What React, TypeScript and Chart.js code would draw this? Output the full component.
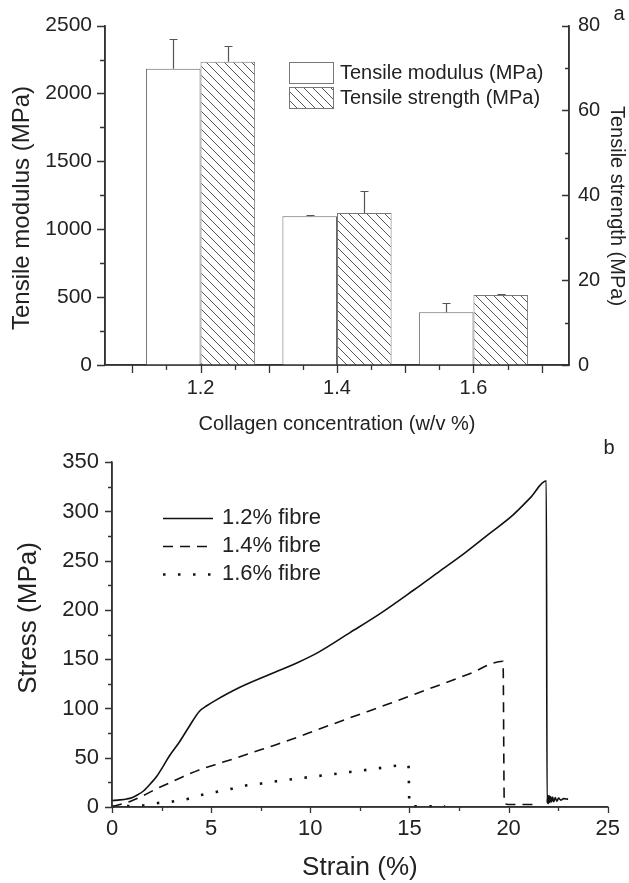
import React, { useEffect, useRef } from 'react';
import { Chart, registerables } from 'chart.js';

Chart.register(...registerables);

const FONT = "'Liberation Sans', Arial, Helvetica, sans-serif";
const AXIS = '#333333';
const TEXT = '#222222';

// ---------- Panel a : bars ----------
const CONCENTRATIONS = [1.2, 1.4, 1.6];
const MODULUS = [2182, 1095, 388];
const MODULUS_ERR = [220, 10, 66];
const STRENGTH = [71.5, 35.8, 16.5];
const STRENGTH_ERR = [3.6, 5.1, 0.3];
const A_X_LABELS = [1.2, 1.4, 1.6];
const A_X_LONG = [1.1, 1.2, 1.3, 1.4, 1.5, 1.6, 1.7];
const A_X_SHORT = [1.15, 1.25, 1.35, 1.45, 1.55, 1.65];
const A_MOD_TICKS = [0, 500, 1000, 1500, 2000, 2500];
const A_MOD_MINOR = [250, 750, 1250, 1750, 2250];
const A_STR_TICKS = [0, 20, 40, 60, 80];
const A_STR_MINOR = [10, 30, 50, 70];
const A_X_TITLE = 'Collagen concentration (w/v %)';
const A_Y_TITLE = 'Tensile modulus (MPa)';
const A_Y1_TITLE = 'Tensile strength (MPa)';

// ---------- Panel b : stress-strain ----------
const STRAIN_12 = [0, 0.4, 0.75, 1.0, 1.3, 1.6, 2.0, 2.25, 2.6, 2.9, 3.4, 3.9, 4.4, 4.8, 5.2, 6.4, 8.0, 9.4, 10.4, 12.0, 13.5, 15.2, 16.5, 17.8, 19.0, 20.2, 21.1, 21.9, 21.94, 21.97, 22.0, 22.04, 22.08, 22.12, 22.17, 22.22, 22.28, 22.35, 22.43, 22.52, 22.63, 22.78, 23.0];
const STRESS_12 = [6.5, 7.2, 8.2, 9.5, 12.5, 16.5, 25, 31, 42, 52, 66, 82, 97, 103, 108, 121, 135, 147, 157, 177, 196, 220, 239, 258, 277, 296, 314, 331, 4, 12, 3.5, 11.5, 4.5, 10.5, 5, 10, 5.5, 9.5, 6, 9, 7, 8.5, 8];
const STRAIN_14 = [0, 0.5, 0.83, 1.0, 1.57, 2.2, 2.9, 3.6, 4.39, 5.2, 6.05, 7.1, 8.2, 9.3, 10.36, 12.0, 14.0, 16.0, 18.0, 19.72, 19.78, 19.85, 20.0, 20.6, 21.5];
const STRESS_14 = [0.5, 3, 5, 6.3, 11.5, 18, 24.5, 31, 37.6, 43, 48.4, 55.5, 62.7, 70.5, 78.4, 90.5, 105, 120, 135, 148, 6, 3, 2.5, 2.5, 2.5];
const STRAIN_16 = [0, 0.83, 1.57, 2.32, 3.07, 3.81, 4.56, 5.3, 6.05, 6.8, 7.54, 8.29, 10.0, 12.0, 13.5, 14.43, 14.95, 15.0, 15.1, 16.8];
const STRESS_16 = [0.5, 1, 1.6, 4, 5.6, 8.2, 12.5, 15.4, 18.6, 22, 23.9, 26.2, 30.5, 35.5, 39.5, 41.9, 41.9, 1, 0.8, 0.8];
const SERIES_B = ['1.2% fibre', '1.4% fibre', '1.6% fibre'];
const B_X_TICKS = [0, 5, 10, 15, 20, 25];
const B_X_MINOR = [2.5, 7.5, 12.5, 17.5, 22.5];
const B_Y_TICKS = [0, 50, 100, 150, 200, 250, 300, 350];
const B_Y_MINOR = [25, 75, 125, 175, 225, 275, 325];
const B_X_TITLE = 'Strain (%)';
const B_Y_TITLE = 'Stress (MPa)';

const DASHES: number[][] = [[], [10, 7], [2.5, 12.5]];
const WIDTHS = [1.6, 1.6, 2.6];

function makeHatch(): CanvasPattern | string {
  const s = 9;
  const c = document.createElement('canvas');
  c.width = s;
  c.height = s;
  const g = c.getContext('2d');
  if (!g) return '#fff';
  g.fillStyle = '#ffffff';
  g.fillRect(0, 0, s, s);
  g.strokeStyle = '#555555';
  g.lineWidth = 1;
  g.beginPath();
  g.moveTo(-1, -1);
  g.lineTo(s + 1, s + 1);
  g.moveTo(-1, s - 1);
  g.lineTo(1, s + 1);
  g.moveTo(s - 1, -1);
  g.lineTo(s + 1, 1);
  g.stroke();
  return g.createPattern(c, 'repeat') || '#fff';
}

type TickSpec = { scale: string; values: number[]; len: number };

function tickMarksPlugin(specs: TickSpec[]) {
  return {
    id: 'tickMarks',
    afterDraw(chart: any) {
      const ctx = chart.ctx;
      const area = chart.chartArea;
      ctx.save();
      ctx.strokeStyle = AXIS;
      // redraw axis lines on top of the bars
      ctx.lineWidth = 1.5;
      ctx.beginPath();
      Object.values(chart.scales).forEach((sc: any) => {
        if (sc.isHorizontal()) {
          ctx.moveTo(area.left - 0.75, sc.top);
          ctx.lineTo(area.right + 0.75, sc.top);
        } else if (sc.position === 'left') {
          ctx.moveTo(sc.right, area.top);
          ctx.lineTo(sc.right, area.bottom);
        } else {
          ctx.moveTo(sc.left, area.top);
          ctx.lineTo(sc.left, area.bottom);
        }
      });
      ctx.stroke();
      ctx.lineWidth = 1.3;
      ctx.beginPath();
      for (const s of specs) {
        const sc = chart.scales[s.scale];
        for (const v of s.values) {
          const p = Math.round(sc.getPixelForValue(v)) + 0.5;
          if (sc.isHorizontal()) {
            ctx.moveTo(p, sc.top);
            ctx.lineTo(p, sc.top + s.len);
          } else if (sc.position === 'left') {
            ctx.moveTo(sc.right, p);
            ctx.lineTo(sc.right - s.len, p);
          } else {
            ctx.moveTo(sc.left, p);
            ctx.lineTo(sc.left - s.len, p);
          }
        }
      }
      ctx.stroke();
      ctx.restore();
    },
  };
}

type VTitle = { text: string; x: number; y: number; size: number; rot: number };

function vTitlesPlugin(items: VTitle[]) {
  return {
    id: 'vTitles',
    afterDraw(chart: any) {
      const ctx = chart.ctx;
      for (const t of items) {
        ctx.save();
        ctx.translate(t.x, t.y);
        ctx.rotate(t.rot);
        ctx.fillStyle = TEXT;
        ctx.font = `${t.size}px ${FONT}`;
        ctx.textAlign = 'center';
        ctx.textBaseline = 'middle';
        ctx.fillText(t.text, 0, 0);
        ctx.restore();
      }
    },
  };
}

const errorBarPlugin = {
  id: 'errorBars',
  afterDatasetsDraw(chart: any) {
    const ctx = chart.ctx;
    ctx.save();
    ctx.strokeStyle = '#555555';
    ctx.lineWidth = 1.2;
    chart.data.datasets.forEach((ds: any, di: number) => {
      const meta = chart.getDatasetMeta(di);
      const yScale = chart.scales[meta.yAxisID];
      meta.data.forEach((bar: any, i: number) => {
        const v = ds.data[i].y + ds.errors[i];
        const yTop = Math.round(yScale.getPixelForValue(v)) + 0.5;
        const x = Math.round(bar.x) + 0.5;
        ctx.beginPath();
        ctx.moveTo(x, bar.y);
        ctx.lineTo(x, yTop);
        ctx.moveTo(x - 4, yTop);
        ctx.lineTo(x + 4, yTop);
        ctx.stroke();
      });
    });
    ctx.restore();
  },
};

function legendAPlugin(hatch: any) {
  return {
    id: 'legendA',
    afterDraw(chart: any) {
      const ctx = chart.ctx;
      ctx.save();
      const boxes = [
        { y: 62, fill: '#ffffff', label: chart.data.datasets[0].label },
        { y: 87, fill: hatch, label: chart.data.datasets[1].label },
      ];
      for (const b of boxes) {
        ctx.fillStyle = b.fill;
        ctx.fillRect(289, b.y, 44, 21);
        ctx.strokeStyle = '#777777';
        ctx.lineWidth = 1;
        ctx.strokeRect(289.5, b.y + 0.5, 44, 21);
        ctx.fillStyle = TEXT;
        ctx.font = `20px ${FONT}`;
        ctx.textBaseline = 'middle';
        ctx.textAlign = 'left';
        ctx.fillText(b.label, 340, b.y + 11);
      }
      ctx.font = `20px ${FONT}`;
      ctx.textAlign = 'center';
      ctx.fillText('a', 619, 14);
      ctx.restore();
    },
  };
}

const legendBPlugin = {
  id: 'legendB',
  afterDraw(chart: any) {
    const ctx = chart.ctx;
    ctx.save();
    chart.data.datasets.forEach((ds: any, i: number) => {
      const y = 82 + i * 28;
      ctx.strokeStyle = '#111111';
      ctx.lineWidth = ds.borderWidth;
      ctx.setLineDash(ds.borderDash || []);
      ctx.beginPath();
      ctx.moveTo(163, y + 0.5);
      ctx.lineTo(213, y + 0.5);
      ctx.stroke();
      ctx.setLineDash([]);
      ctx.fillStyle = TEXT;
      ctx.font = `22px ${FONT}`;
      ctx.textBaseline = 'middle';
      ctx.textAlign = 'left';
      ctx.fillText(ds.label, 222, y);
    });
    ctx.font = `20px ${FONT}`;
    ctx.textAlign = 'center';
    ctx.fillText('b', 609, 12);
    ctx.restore();
  },
};

function setTicks(values: number[]) {
  return (s: any) => {
    s.ticks = values.map((v) => ({ value: v }));
  };
}

export default function App() {
  const topRef = useRef<HTMLCanvasElement>(null);
  const botRef = useRef<HTMLCanvasElement>(null);

  useEffect(() => {
    Chart.defaults.font.family = FONT;
    Chart.defaults.color = TEXT;
    const hatch = makeHatch();

    const topChart = new Chart(topRef.current as HTMLCanvasElement, {
      type: 'bar',
      data: {
        datasets: [
          {
            label: 'Tensile modulus (MPa)',
            data: CONCENTRATIONS.map((c, i) => ({ x: c, y: MODULUS[i] })),
            errors: MODULUS_ERR,
            yAxisID: 'y',
            backgroundColor: '#ffffff',
            borderColor: '#666666',
            borderWidth: 1,
            categoryPercentage: 0.8,
            barPercentage: 1,
          } as any,
          {
            label: 'Tensile strength (MPa)',
            data: CONCENTRATIONS.map((c, i) => ({ x: c, y: STRENGTH[i] })),
            errors: STRENGTH_ERR,
            yAxisID: 'y1',
            backgroundColor: hatch,
            borderColor: '#777777',
            borderWidth: 1,
            categoryPercentage: 0.8,
            barPercentage: 1,
          } as any,
        ],
      },
      options: {
        animation: false,
        responsive: false,
        maintainAspectRatio: false,
        layout: { padding: { top: 24, left: 0, right: 0, bottom: 0 } },
        plugins: { legend: { display: false }, tooltip: { enabled: false } },
        scales: {
          x: {
            type: 'linear',
            min: 1.06,
            max: 1.74,
            offset: false,
            afterBuildTicks: setTicks(A_X_LABELS),
            afterFit: (s: any) => { s.height = 71; },
            grid: { display: false, drawTicks: false, offset: false },
            border: { display: true, color: AXIS, width: 1.5 },
            ticks: {
              autoSkip: false,
              maxRotation: 0,
              padding: 11,
              color: TEXT,
              font: { size: 20 },
              callback: (v: any) => Number(v).toFixed(1),
            },
            title: {
              display: true,
              text: A_X_TITLE,
              color: TEXT,
              font: { size: 20 },
              padding: { top: 8, bottom: 0 },
            },
          },
          y: {
            type: 'linear',
            position: 'left',
            min: 0,
            max: 2500,
            afterBuildTicks: setTicks(A_MOD_TICKS),
            afterFit: (s: any) => { s.width = 105; },
            grid: { display: false, drawTicks: false },
            border: { display: true, color: AXIS, width: 1.5 },
            ticks: { autoSkip: false, padding: 13, color: TEXT, font: { size: 21 }, callback: (v: any) => String(v) },
            title: { display: false },
          },
          y1: {
            type: 'linear',
            position: 'right',
            min: 0,
            max: 80,
            afterBuildTicks: setTicks(A_STR_TICKS),
            afterFit: (s: any) => { s.width = 60; },
            grid: { display: false, drawTicks: false },
            border: { display: true, color: AXIS, width: 1.5 },
            ticks: { autoSkip: false, padding: 9, color: TEXT, font: { size: 20 }, callback: (v: any) => String(v) },
            title: { display: false },
          },
        },
      } as any,
      plugins: [
        errorBarPlugin,
        tickMarksPlugin([
          { scale: 'x', values: A_X_LONG, len: 8 },
          { scale: 'x', values: A_X_SHORT, len: 5 },
          { scale: 'y', values: A_MOD_TICKS, len: 8 },
          { scale: 'y', values: A_MOD_MINOR, len: 5 },
          { scale: 'y1', values: A_STR_TICKS, len: 7 },
          { scale: 'y1', values: A_STR_MINOR, len: 4 },
        ]),
        vTitlesPlugin([
          { text: A_Y_TITLE, x: 22, y: 208, size: 24, rot: -Math.PI / 2 },
          { text: A_Y1_TITLE, x: 617, y: 206, size: 20, rot: Math.PI / 2 },
        ]),
        legendAPlugin(hatch),
      ],
    });

    const strains = [STRAIN_12, STRAIN_14, STRAIN_16];
    const stresses = [STRESS_12, STRESS_14, STRESS_16];

    const botChart = new Chart(botRef.current as HTMLCanvasElement, {
      type: 'line',
      data: {
        datasets: SERIES_B.map((name, k) => ({
          label: name,
          data: strains[k].map((x, i) => ({ x, y: stresses[k][i] })),
          borderColor: '#111111',
          borderWidth: WIDTHS[k],
          borderDash: DASHES[k],
          pointRadius: 0,
          fill: false,
          cubicInterpolationMode: 'monotone',
          clip: false,
        })) as any,
      },
      options: {
        animation: false,
        responsive: false,
        maintainAspectRatio: false,
        layout: { padding: { top: 14, left: 0, right: 15, bottom: 0 } },
        plugins: { legend: { display: false }, tooltip: { enabled: false } },
        scales: {
          x: {
            type: 'linear',
            min: 0,
            max: 25,
            afterBuildTicks: setTicks(B_X_TICKS),
            afterFit: (s: any) => { s.height = 76; },
            grid: { display: false, drawTicks: false },
            border: { display: true, color: AXIS, width: 1.5 },
            ticks: { autoSkip: false, maxRotation: 0, padding: 9, color: TEXT, font: { size: 22 }, callback: (v: any) => String(v) },
            title: {
              display: true,
              text: B_X_TITLE,
              color: TEXT,
              font: { size: 26 },
              padding: { top: 2, bottom: 0 },
            },
          },
          y: {
            type: 'linear',
            min: 0,
            max: 350,
            afterBuildTicks: setTicks(B_Y_TICKS),
            afterFit: (s: any) => { s.width = 112; },
            grid: { display: false, drawTicks: false },
            border: { display: true, color: AXIS, width: 1.5 },
            ticks: { autoSkip: false, padding: 13, color: TEXT, font: { size: 22 }, callback: (v: any) => String(v) },
            title: { display: false },
          },
        },
      } as any,
      plugins: [
        tickMarksPlugin([
          { scale: 'x', values: B_X_TICKS, len: 6 },
          { scale: 'x', values: B_X_MINOR, len: 4 },
          { scale: 'y', values: B_Y_TICKS, len: 7 },
          { scale: 'y', values: B_Y_MINOR, len: 4 },
        ]),
        vTitlesPlugin([{ text: B_Y_TITLE, x: 29, y: 182, size: 26, rot: -Math.PI / 2 }]),
        legendBPlugin,
      ],
    });

    return () => {
      topChart.destroy();
      botChart.destroy();
    };
  }, []);

  return (
    <div style={{ position: 'absolute', left: 0, top: 0, width: 629, height: 883, background: '#ffffff' }}>
      <canvas ref={topRef} width={629} height={436} style={{ display: 'block', width: 629, height: 436 }} />
      <canvas ref={botRef} width={629} height={447} style={{ display: 'block', width: 629, height: 447 }} />
    </div>
  );
}
